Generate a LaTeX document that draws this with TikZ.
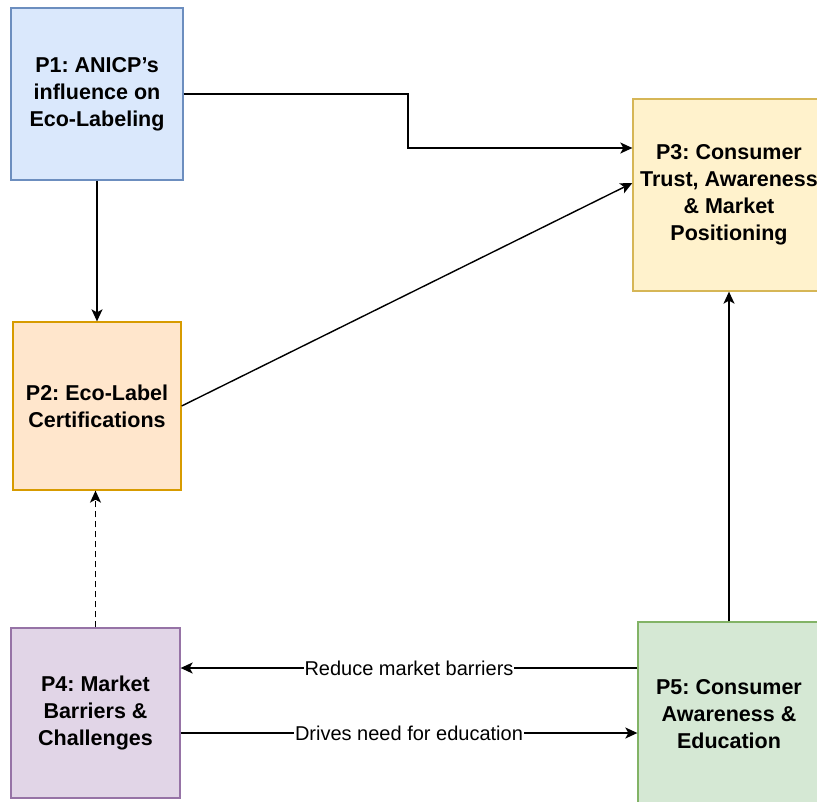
\documentclass[tikz,border=0pt]{standalone}
\usepackage{fontspec}
\setmainfont{Liberation Sans}
\frenchspacing
\usetikzlibrary{arrows.meta,positioning}
\definecolor{blueF}{HTML}{DAE8FC}\definecolor{blueD}{HTML}{6C8EBF}
\definecolor{orngF}{HTML}{FFE6CC}\definecolor{orngD}{HTML}{D79B00}
\definecolor{yellF}{HTML}{FFF2CC}\definecolor{yellD}{HTML}{D6B656}
\definecolor{purpF}{HTML}{E1D5E7}\definecolor{purpD}{HTML}{9673A6}
\definecolor{grnF}{HTML}{D5E8D4}\definecolor{grnD}{HTML}{82B366}
\begin{document}
\begin{tikzpicture}[x=1pt,y=-1pt,
  box/.style={rectangle, draw, line width=1.3pt, align=center, inner sep=0pt,
    font=\fontsize{21.5}{27}\selectfont\bfseries},
  arr/.style={line width=1.4pt, -{Stealth[length=12pt,width=11pt,inset=3pt]}},
  lbl/.style={fill=white, inner sep=1pt, font=\fontsize{20}{24}\selectfont}]
\useasboundingbox[fill=white] (0,0) rectangle (817,801);
\clip (0,0) rectangle (817,801);
\node[box, fill=blueF, draw=blueD, minimum width=172pt, minimum height=172pt] (p1) at (97,94) {P1: ANICP’s\\influence on\\Eco-Labeling};
\node[box, fill=orngF, draw=orngD, minimum width=168pt, minimum height=168pt] (p2) at (97,406) {P2: Eco-Label\\Certifications};
\node[box, fill=yellF, draw=yellD, minimum width=192pt, minimum height=192pt] (p3) at (729,195) {P3: Consumer\\Trust, Awareness\\\& Market\\Positioning};
\node[box, fill=purpF, draw=purpD, minimum width=169pt, minimum height=170pt] (p4) at (95.5,713) {P4: Market\\Barriers \&\\Challenges};
\node[box, fill=grnF, draw=grnD, minimum width=182pt, minimum height=184pt] (p5) at (729,714) {P5: Consumer\\Awareness \&\\Education};
\coordinate (bend) at (408,148);
\draw[arr] (p1.east) -| (bend) -- (bend -| p3.west);
\draw[arr] (p1.south) -- (p2.north);
\draw[arr] (p2.east) -- ([yshift=12pt]p3.west);
\draw[arr, dash pattern=on 6pt off 4pt] (p4.north) -- (p4.north |- p2.south);
\draw[arr] (p5.north) -- (p3.south);
\draw[arr] ([yshift=46pt]p5.west) -- node[lbl]{Reduce market barriers} ([yshift=46pt]p5.west -| p4.east);
\draw[arr] ([yshift=-20pt]p4.east) -- node[lbl]{Drives need for education} ([yshift=-20pt]p4.east -| p5.west);
\end{tikzpicture}
\end{document}
